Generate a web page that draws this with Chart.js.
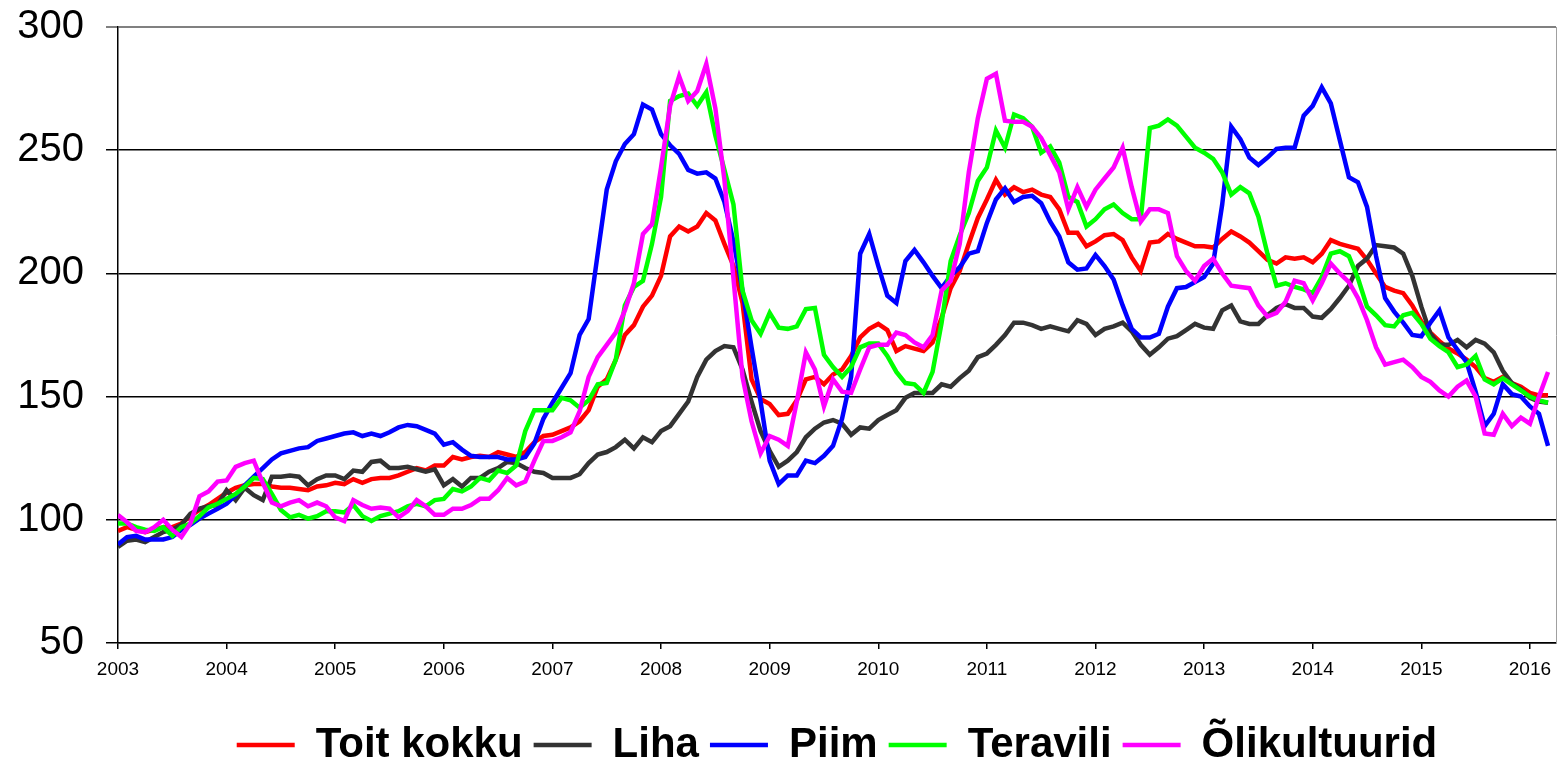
<!DOCTYPE html>
<html lang="et">
<head>
<meta charset="UTF-8">
<title>Toiduainete hinnaindeksid</title>
<script src="https://cdn.jsdelivr.net/npm/chart.js@4.4.0/dist/chart.umd.min.js"></script>
<style>
  html, body { margin: 0; padding: 0; background: #fff; overflow: hidden; }
</style>
</head>
<body>
<canvas id="chart" width="1561" height="776"></canvas>
<script>
// monthly values, Jan 2003 .. Mar 2016
const firstYear = 2003;
const yearTicks = [2003, 2004, 2005, 2006, 2007, 2008, 2009, 2010, 2011, 2012, 2013, 2014, 2015, 2016];
const valueTicks = [50, 100, 150, 200, 250, 300];

const toitKokku = [
  95.5, 97, 96, 95, 96, 97, 97, 98.5, 101.5, 104, 106, 108.5,
  111, 113, 114, 114.5, 114.5, 113.5, 113, 113, 112.5, 112, 113.5, 114,
  115, 114.5, 116.5, 115, 116.5, 117, 117, 118, 119.5, 121, 120, 122,
  122, 125.5, 124.5, 125.5, 126, 125.5, 127.5, 126.5, 125.5, 127.5, 131.5, 134,
  134.5, 136, 137.5, 140, 144.5, 154, 157, 165, 175, 179, 186.5, 191,
  199, 215, 219, 217, 219, 224.5, 221.5, 212, 203, 188, 157, 149,
  147, 142.5, 143, 148.5, 157, 158, 155, 159, 161, 166.5, 174, 177.5,
  179.5, 177, 168.5, 170.5, 169.5, 168.5, 172, 182, 194, 201, 212, 222.5,
  230, 238, 232, 235, 233, 234, 232, 231, 226, 216.5, 216.5, 211,
  213, 215.5, 216, 213.5, 206.5, 201, 212.5, 213, 216, 214, 212.5, 211,
  211, 210.5, 214, 217, 215, 212.5, 209, 205.5, 204, 206.5, 206, 206.5,
  204.5, 208, 213.5, 212, 211, 210, 205.5, 200, 194.5, 193, 192, 187,
  180.5, 176, 172.5, 169.5, 167.5, 165, 162, 157.5, 156, 158, 155.5, 154,
  151.5, 150.5, 150.5
];
const liha = [
  89, 91.5, 92, 91, 93, 95, 96, 98, 102.5, 104.5, 105.5, 106,
  112, 108, 113, 110, 108, 117.5, 117.5, 118, 117.5, 114, 116.5, 118,
  118, 116.5, 120, 119.5, 123.5, 124, 121, 121, 121.5, 120.5, 119.5, 120.5,
  114, 116.5, 113.5, 117, 117, 119.5, 121, 123.5, 123, 121, 119.5, 119,
  117, 117, 117, 118.5, 123, 126.5, 127.5, 129.5, 132.5, 129, 133.5, 131.5,
  136, 138, 143, 148, 158, 165, 168.5, 170.5, 170, 161, 148, 136,
  128, 121.5, 124, 127.5, 133.5, 137, 139.5, 140.5, 139, 134.5, 137.5, 137,
  140.5, 142.5, 144.5, 149.5, 151.5, 151.5, 151.5, 155, 154, 157.5, 160.5, 166,
  167.5, 171, 175, 180, 180, 179, 177.5, 178.5, 177.5, 176.5, 181, 179.5,
  175, 177.5, 178.5, 180, 176.5, 171, 167, 170, 173.5, 174.5, 177, 179.5,
  178, 177.5, 185, 187, 180.5, 179.5, 179.5, 183, 186, 187.5, 186, 186,
  182.5, 182, 185.5, 190, 195, 203, 206, 211.5, 211, 210.5, 208, 199,
  186.5, 175.5, 171, 171, 173, 170, 173, 171.5, 168, 160.5, 155.5, 153,
  149.5, 148, 147.5
];
const piim = [
  90, 93, 93.5, 92, 92, 92, 93, 96, 98, 100.5, 102.5, 104.5,
  106.5, 110, 114, 117.5, 121, 124.5, 127, 128, 129, 129.5, 132, 133,
  134, 135, 135.5, 134, 135, 134, 135.5, 137.5, 138.5, 138, 136.5, 135,
  130.5, 131.5, 128.5, 126, 125.5, 125.5, 125.5, 124.5, 124.5, 125.5, 131, 141,
  147.5, 153.5, 159.5, 175, 181.5, 208, 234, 245.5, 252.5, 256.5, 268.5, 266.5,
  256.5, 252, 248.5, 242, 240.5, 241, 238.5, 229, 213, 193, 170, 148,
  124, 114.5, 118, 118, 124, 123, 126, 130, 141, 158, 208, 216,
  203, 191, 188, 205, 209.5, 204.5, 199, 194, 199, 202.5, 208, 209,
  220.5, 230, 234.5, 229, 231, 231.5, 228.5, 221, 215, 204.5, 201.5, 202,
  207.5, 203, 197.5, 187, 177.5, 174, 174, 175.5, 186.5, 194, 194.5, 196.5,
  198.5, 204, 228, 259.5, 254.5, 247, 244, 247, 250.5, 251, 251, 264,
  268, 275.5, 269, 254, 239, 237, 227, 207, 190, 184.5, 180, 175,
  174.5, 180, 185, 174, 169, 164, 152, 138, 143, 155, 151, 150,
  146, 143, 130
];
const teravili = [
  98.5, 98.5, 97, 96, 95.5, 97, 93.5, 97, 98.5, 101.5, 105, 106.5,
  108.5, 110.5, 113.5, 117, 116.5, 110.5, 104, 101, 102, 100.5, 101.5, 103.5,
  103.5, 103, 106, 101.5, 99.5, 101.5, 102.5, 103.5, 105.5, 106.5, 105.5, 108,
  108.5, 112.5, 111.5, 113.5, 117, 116, 120, 119, 122, 136, 144.5, 144.5,
  144.5, 149.5, 148.5, 145.5, 148.5, 155, 155.5, 165, 187, 194.5, 197, 212,
  231, 270, 272, 273, 268, 273.5, 256, 242, 228, 193, 181, 175.5,
  184, 178, 177.5, 178.5, 185.5, 186, 167, 162, 158, 162, 170, 171.5,
  171.5, 166.5, 160, 155.5, 155, 151.5, 160, 180, 205, 215.5, 224.5, 237.5,
  243, 258, 251, 264.5, 263, 259.5, 249, 251.5, 245, 231, 229, 219,
  222, 226, 228, 224.5, 222, 222, 259, 260, 262.5, 260, 255.5, 251,
  249, 246.5, 241, 232, 235, 232.5, 223, 208, 195, 196, 194.5, 193.5,
  192, 198.5, 208, 209, 207, 198, 186.5, 183, 179, 178.5, 183, 184,
  179.5, 173.5, 170.5, 168, 162, 163, 166.5, 157, 155, 157.5, 155, 152.5,
  150, 148.5, 147.5
];
const olikultuurid = [
  102, 99, 95.5, 95, 97, 100, 96, 93, 98.5, 109.5, 111.5, 115.5,
  116, 121.5, 123, 124, 115, 107, 105.5, 107, 108, 105.5, 107, 105.5,
  101, 99.5, 108, 106, 104.5, 105, 104.5, 101, 103.5, 108, 105.5, 102,
  102, 104.5, 104.5, 106, 108.5, 108.5, 112, 117, 114, 115.5, 124, 132,
  132, 133.5, 135.5, 144, 158, 166, 171, 176, 185, 196, 216, 220,
  243, 268, 280, 270, 274, 285, 267, 238, 198, 158, 140, 127,
  134, 132.5, 130, 148, 168, 161, 146, 157, 152, 151.5, 161, 170,
  171, 171, 176, 175, 172, 170, 175, 193, 197, 212, 241, 263,
  279, 281, 262, 261.5, 261.5, 259.5, 255, 248, 241, 226, 235, 227,
  234, 238.5, 243, 251, 235, 221, 226, 226, 224.5, 207, 201, 197,
  203, 206, 200, 195, 194.5, 194, 187, 182.5, 184, 188.5, 197, 196,
  189, 196, 204, 200, 196.5, 190, 181, 170, 163, 164, 165, 162,
  158, 156, 152.5, 150, 154, 156.5, 150, 135, 134.5, 143, 138, 141.5,
  139, 150, 160
];

const series = [
  { label: 'Toit kokku', values: toitKokku, color: '#ff0000' },
  { label: 'Liha', values: liha, color: '#333333' },
  { label: 'Piim', values: piim, color: '#0000ff' },
  { label: 'Teravili', values: teravili, color: '#00ff00' },
  { label: 'Õlikultuurid', values: olikultuurid, color: '#ff00ff' }
];

// month i -> decimal year
function toPoints(values) {
  return values.map((v, i) => ({ x: firstYear + i / 12, y: v }));
}

Chart.defaults.font.family = '"Liberation Sans", Arial, sans-serif';
Chart.defaults.color = '#000';

new Chart(document.getElementById('chart'), {
  type: 'line',
  data: {
    datasets: series.map((s, i) => ({
      label: s.label,
      data: toPoints(s.values),
      borderColor: s.color,
      backgroundColor: s.color,
      borderWidth: 4.5,
      pointRadius: 0,
      tension: 0,
      order: series.length - i   // last series drawn on top
    }))
  },
  options: {
    responsive: false,
    animation: false,
    devicePixelRatio: 1,
    layout: { padding: { top: 27, right: 5, left: 10, bottom: 0 } },
    plugins: {
      tooltip: { enabled: false },
      legend: {
        position: 'bottom',
        fullSize: false,
        reverse: true,
        labels: {
          usePointStyle: true,
          pointStyle: 'line',
          pointStyleWidth: 58,
          padding: 11,
          color: '#000',
          font: { size: 42, weight: 'bold' }
        }
      }
    },
    scales: {
      x: {
        type: 'linear',
        min: 2003,
        max: 2016.24,
        afterBuildTicks: s => { s.ticks = yearTicks.map(v => ({ value: v })); },
        afterFit: s => { s.height = 70; },
        border: { color: '#000', width: 1.5 },
        grid: { drawOnChartArea: false, tickLength: 6, color: '#000', lineWidth: 1.5 },
        ticks: {
          autoSkip: false,
          maxRotation: 0,
          padding: 9,
          font: { size: 19 },
          callback: v => String(v)
        }
      },
      y: {
        min: 50,
        max: 300,
        afterBuildTicks: s => { s.ticks = valueTicks.map(v => ({ value: v })); },
        afterFit: s => {
          s.width = 108;
          s.paddingTop = 0;
          s.paddingBottom = 0;
        },
        border: { color: '#000', width: 1.5 },
        grid: {
          color: c => (c.tick && c.tick.value === 300 ? '#808080' : '#000'),
          lineWidth: c => (c.tick && c.tick.value === 300 ? 2 : 1.5),
          tickLength: 12
        },
        ticks: { padding: 22, font: { size: 40 } }
      },
      yRight: {
        position: 'right',
        min: 50,
        max: 300,
        border: { color: '#a0a0a0', width: 1 },
        grid: { drawOnChartArea: false, drawTicks: false },
        ticks: { display: false }
      }
    }
  }
});
</script>
</body>
</html>
